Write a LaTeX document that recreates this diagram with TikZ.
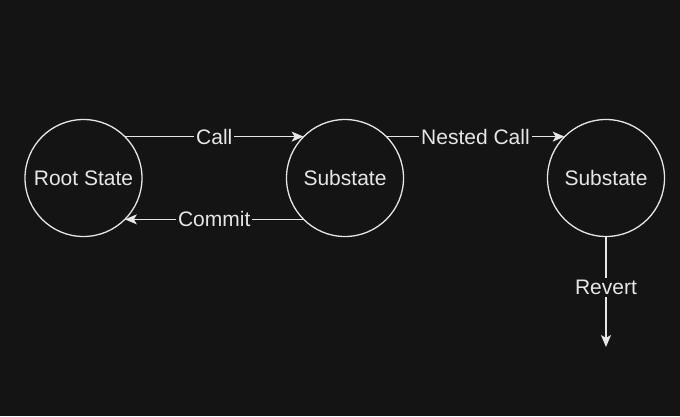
\documentclass[tikz,border=0pt]{standalone}
\usepackage{fontspec}
\setmainfont{Liberation Sans}
\usepackage{xcolor}
\usepackage{tikz}
\usetikzlibrary{arrows.meta}
\definecolor{bgdark}{HTML}{141414}
\definecolor{fgline}{HTML}{E6E6E6}

\begin{document}
\begin{tikzpicture}[x=1pt,y=-1pt,
  state/.style={draw=fgline,circle,line width=1.3pt,minimum size=117pt,
                inner sep=0pt,outer sep=0pt,text=fgline,font=\fontsize{21}{25}\selectfont},
  arr/.style={-{Stealth[length=12pt,width=10pt,inset=3pt]},fgline,line width=1.3pt},
  lbl/.style={fill=bgdark,text=fgline,inner sep=2pt,font=\fontsize{21}{25}\selectfont}]
  \fill[bgdark] (0,0) rectangle (680,416);
  \useasboundingbox (0,0) rectangle (680,416);
  \node[state] (R)  at (83.5,178) {Root State};
  \node[state] (S1) at (345,178)  {Substate};
  \node[state] (S2) at (606,178)  {Substate};
  \coordinate (E) at (606,347);

  \draw[arr] (R.north east)  -- node[lbl]{Call} (S1.north west);
  \draw[arr] (S1.south west) -- node[lbl]{Commit} (R.south east);
  \draw[arr] (S1.north east) -- node[lbl]{Nested Call} (S2.north west);
  \draw[arr] (S2.south) -- node[lbl,pos=0.46]{Revert} (E);
\end{tikzpicture}
\end{document}
